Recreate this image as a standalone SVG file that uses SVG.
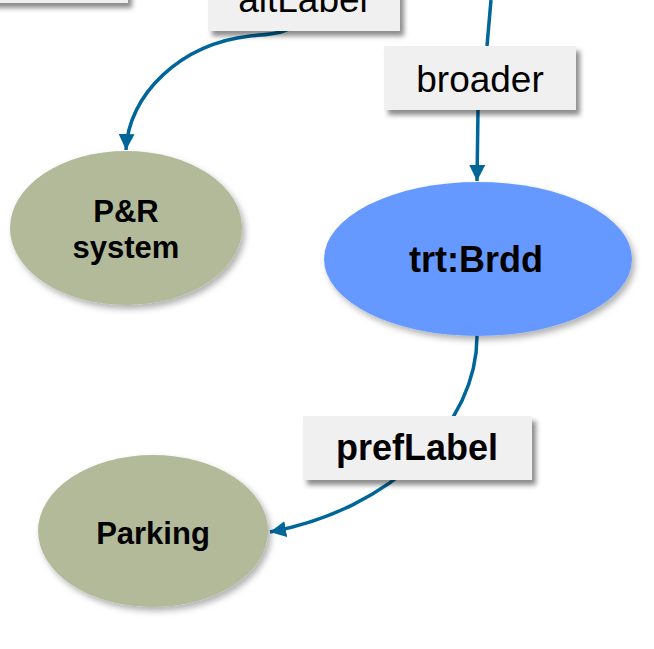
<svg xmlns="http://www.w3.org/2000/svg" width="654" height="649" viewBox="0 0 654 649">
  <defs>
    <filter id="shadow" x="-20%" y="-20%" width="140%" height="150%">
      <feDropShadow dx="4" dy="5" stdDeviation="2.5" flood-color="#000" flood-opacity="0.45"/>
    </filter>
    <filter id="eshadow" x="-20%" y="-20%" width="140%" height="150%">
      <feDropShadow dx="3" dy="4" stdDeviation="3" flood-color="#000" flood-opacity="0.3"/>
    </filter>
    <marker id="arrow" markerUnits="userSpaceOnUse" markerWidth="16" markerHeight="16" refX="16" refY="8" orient="auto">
      <path d="M0,0 L16,8 L0,16 z" fill="#006699"/>
    </marker>
  </defs>
  <style>
    .edge { fill: none; stroke: #006699; stroke-width: 3.5; }
    .lbl { fill: #F0F0F0; filter: url(#shadow); }
    .olive { fill: #B3BA9A; filter: url(#eshadow); }
    .blue { fill: #6699FF; filter: url(#eshadow); }
    .t { font-family: "Liberation Sans", Arial, sans-serif; fill: #000; text-anchor: middle; }
    .b { font-weight: bold; }
  </style>
  <rect width="654" height="649" fill="#FFFFFF"/>

  <g id="connectors">
    <path class="edge" d="M 300 20 C 290 34 270 34 250 36 C 180 44 128 95 126 150" marker-end="url(#arrow)"/>
    <path class="edge" d="M 491 0 L 487 46 L 478 110 L 477 181" marker-end="url(#arrow)"/>
    <path class="edge" d="M 477 335 C 478 425 390 510 270 532" marker-end="url(#arrow)"/>
  </g>

  <g id="node-topleft">
    <rect class="lbl" x="-10" y="-60" width="138" height="63"/>
  </g>

  <g id="node-pr-system">
    <ellipse class="olive" cx="126" cy="228" rx="116" ry="77"/>
    <text class="t b" x="126" y="222" font-size="31">P&amp;R</text>
    <text class="t b" x="126" y="258" font-size="31">system</text>
  </g>

  <g id="node-trt-brdd">
    <ellipse class="blue" cx="478" cy="259" rx="154" ry="77"/>
    <text class="t b" x="476" y="272" font-size="36">trt:Brdd</text>
  </g>

  <g id="node-parking">
    <ellipse class="olive" cx="153" cy="531" rx="115" ry="76"/>
    <text class="t b" x="153" y="544" font-size="31">Parking</text>
  </g>

  <g id="label-altLabel">
    <rect class="lbl" x="208" y="-34" width="192" height="65"/>
    <text class="t" x="303" y="12" font-size="37">altLabel</text>
  </g>

  <g id="label-broader">
    <rect class="lbl" x="384" y="46" width="192" height="64"/>
    <text class="t" x="480" y="92" font-size="37">broader</text>
  </g>

  <g id="label-prefLabel">
    <rect class="lbl" x="303" y="416" width="229" height="64"/>
    <text class="t b" x="417" y="460" font-size="36">prefLabel</text>
  </g>
</svg>
